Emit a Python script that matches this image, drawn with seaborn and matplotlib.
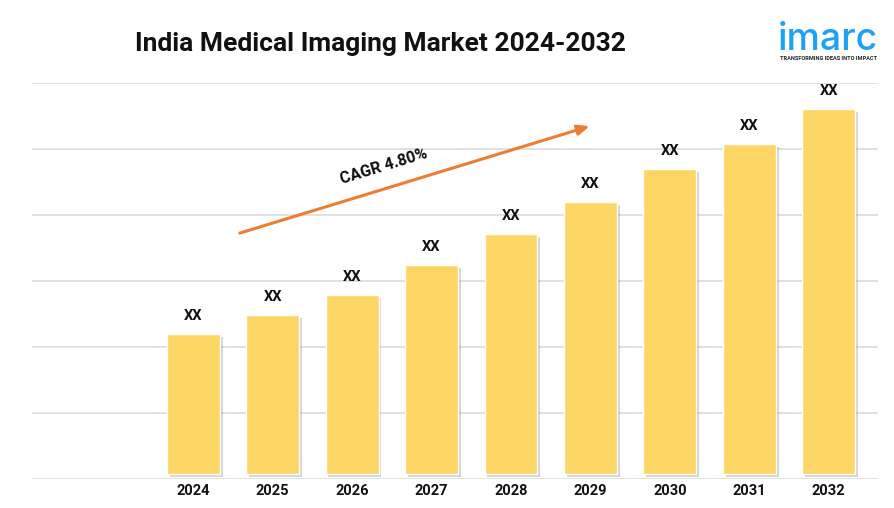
import matplotlib
matplotlib.use("Agg")
import matplotlib.pyplot as plt
import matplotlib.patheffects as pe
import seaborn as sns
import pandas as pd

years = ["2024", "2025", "2026", "2027", "2028", "2029", "2030", "2031", "2032"]
values = [2.12, 2.41, 2.71, 3.17, 3.64, 4.12, 4.62, 5.00, 5.53]
bar_labels = ["XX"] * 9
title = "India Medical Imaging Market 2024-2032"
cagr_text = "CAGR 4.80%"

df = pd.DataFrame({"Year": years, "Value": values})

sns.set_style("white")
plt.rcParams["font.family"] = ["Roboto", "DejaVu Sans"]

fig = plt.figure(figsize=(8.94, 5.08), dpi=100)
ax = fig.add_axes([32 / 894, 29 / 508, 846 / 894, 396 / 508])

sns.barplot(data=df, x="Year", y="Value", color="#FDD666", saturation=1,
            width=0.667, ax=ax, zorder=3)

# soft drop shadow like the original
for p in ax.patches:
    p.set_path_effects([
        pe.SimplePatchShadow(offset=(2, -2), shadow_rgbFace="#888888", alpha=0.35),
        pe.Normal(),
    ])

base = -5 / 66
ax.set_ylim(base, base + 6)
ax.set_xlim(-2.03, 8.62)
ax.set_yticks([base + k for k in range(7)])
ax.set_yticklabels([])
ax.grid(axis="y", color="#d9d9d9", linewidth=1.1, zorder=0)
ax.set_axisbelow(True)
for s in ax.spines.values():
    s.set_visible(False)
ax.tick_params(axis="both", length=0)
ax.tick_params(axis="x", pad=3.5)
ax.set_xlabel("")
ax.set_ylabel("")
for t in ax.get_xticklabels():
    t.set_fontweight("bold")
    t.set_fontsize(10.5)
    t.set_color("#111111")

for i, (v, lab) in enumerate(zip(values, bar_labels)):
    ax.annotate(lab, (i, v), xytext=(0, 8), textcoords="offset points",
                ha="center", va="bottom", fontsize=10.5, fontweight="bold",
                color="#111111")

# CAGR arrow
ax.annotate("", xy=(4.99, 5.27), xytext=(0.586, 3.65),
            arrowprops=dict(arrowstyle="-|>,head_length=0.7,head_width=0.3",
                            color="#ED7D31", lw=2.2, shrinkA=0, shrinkB=0),
            zorder=5)
ax.text(2.40, 4.66, cagr_text, rotation=17, ha="center", va="center",
        fontsize=11.5, fontweight="bold", color="#111111",
        rotation_mode="anchor")

fig.text(380 / 894, 1 - 44 / 508, title, ha="center", va="center",
         fontsize=19, fontweight="bold", color="#111111")

# logo
fig.text(828 / 894, 1 - 50 / 508, "imarc", ha="center", va="baseline",
         fontsize=27, color="#1AA3F5", family=["Inter", "DejaVu Sans"],
         fontweight="medium")
fig.text(828 / 894, 1 - 59 / 508, "TRANSFORMING IDEAS INTO IMPACT",
         ha="center", va="center", fontsize=4.1, fontweight="bold",
         color="#222222")

fig.savefig("out.png", dpi=100)
